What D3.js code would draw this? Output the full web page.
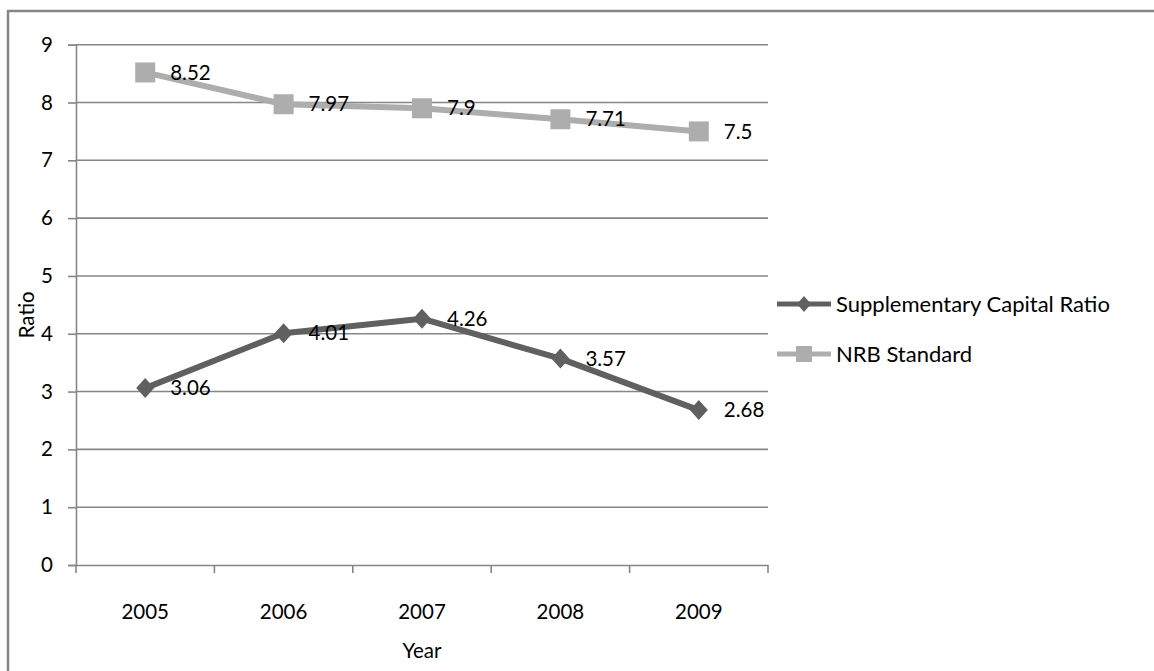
<!DOCTYPE html>
<html>
<head>
<meta charset="utf-8">
<script src="https://cdn.jsdelivr.net/npm/d3@7/dist/d3.min.js"></script>
<style>
  html, body { margin: 0; padding: 0; background: #fff; }
  svg { display: block; }
  text { font-family: Lato, "Liberation Sans", sans-serif; fill: #000; }
</style>
</head>
<body>
<svg id="chart" width="1154" height="671"></svg>
<script>
// Chart data
const years = ["2005", "2006", "2007", "2008", "2009"];
const supplementaryRatio = [3.06, 4.01, 4.26, 3.57, 2.68];
const nrbStandard = [8.52, 7.97, 7.9, 7.71, 7.5];
const yTicks = [0, 1, 2, 3, 4, 5, 6, 7, 8, 9];
const seriesNames = ["Supplementary Capital Ratio", "NRB Standard"];

const W = 1154, H = 671;
const plot = { left: 76, right: 768, top: 44.7, bottom: 565 };
const fontSize = 20.5;
const legendFontSize = 22;
const gridColor = "#868686";
const darkColor = "#606060";
const lightColor = "#adadad";

const svg = d3.select("#chart");

// Outer chart frame
svg.append("rect")
  .attr("x", 8).attr("y", 11)
  .attr("width", W + 20).attr("height", H + 20)
  .attr("fill", "none")
  .attr("stroke", gridColor)
  .attr("stroke-width", 2.5);

const x = d3.scaleBand().domain(years).range([plot.left, plot.right]).padding(0);
const y = d3.scaleLinear().domain([0, 9]).range([plot.bottom, plot.top]);
const cx = d => x(d) + x.bandwidth() / 2;

// Horizontal gridlines
svg.append("g")
  .selectAll("line")
  .data(yTicks.filter(t => t > 0))
  .join("line")
  .attr("x1", plot.left).attr("x2", plot.right)
  .attr("y1", d => y(d)).attr("y2", d => y(d))
  .attr("stroke", gridColor)
  .attr("stroke-width", 1.6);

// Y axis
const yAxis = svg.append("g")
  .attr("transform", `translate(${plot.left},0)`)
  .call(d3.axisLeft(y).tickValues(yTicks).tickSize(8).tickPadding(15).tickFormat(d3.format("d")));
yAxis.select(".domain").attr("stroke", gridColor).attr("stroke-width", 1.6);
yAxis.selectAll(".tick line").attr("stroke", gridColor).attr("stroke-width", 1.6);
yAxis.selectAll(".tick text")
  .style("font-family", "Lato, 'Liberation Sans', sans-serif")
  .style("font-size", fontSize + "px")
  .attr("fill", "#000");

// X axis: baseline, category labels and boundary ticks
const xAxis = svg.append("g")
  .attr("transform", `translate(0,${plot.bottom})`)
  .call(d3.axisBottom(x).tickSize(0).tickPadding(38));
xAxis.select(".domain").attr("stroke", gridColor).attr("stroke-width", 1.6);
xAxis.selectAll(".tick text")
  .style("font-family", "Lato, 'Liberation Sans', sans-serif")
  .style("font-size", fontSize + "px")
  .attr("fill", "#000")
  .attr("dy", "0.35em")
  .attr("y", 47);

const boundaries = years.map(d => x(d)).concat([x(years[years.length - 1]) + x.bandwidth()]);
svg.append("g")
  .selectAll("line")
  .data(boundaries)
  .join("line")
  .attr("x1", d => d).attr("x2", d => d)
  .attr("y1", plot.bottom).attr("y2", plot.bottom + 8)
  .attr("stroke", gridColor)
  .attr("stroke-width", 1.6);

// Axis titles
svg.append("text")
  .attr("transform", `translate(27,${(plot.top + plot.bottom) / 2 + 10}) rotate(-90)`)
  .attr("text-anchor", "middle")
  .attr("dy", "0.35em")
  .style("font-size", fontSize + "px")
  .text("Ratio");

svg.append("text")
  .attr("x", (plot.left + plot.right) / 2)
  .attr("y", 651)
  .attr("text-anchor", "middle")
  .attr("dy", "0.35em")
  .style("font-size", fontSize + "px")
  .text("Year");

// Series
const line = d3.line().x(d => cx(d.year)).y(d => y(d.value));
const series = [
  { name: seriesNames[0], values: supplementaryRatio, color: darkColor, shape: "diamond" },
  { name: seriesNames[1], values: nrbStandard, color: lightColor, shape: "square" }
];

const diamond = "M0,-10L9,0L0,10L-9,0Z";
const square = "M-10,-10H10V10H-10Z";

series.forEach(s => {
  const pts = years.map((yr, i) => ({ year: yr, value: s.values[i] }));
  const g = svg.append("g");
  g.append("path")
    .datum(pts)
    .attr("d", line)
    .attr("fill", "none")
    .attr("stroke", s.color)
    .attr("stroke-width", 6)
    .attr("stroke-linejoin", "round");
  g.selectAll("path.marker")
    .data(pts)
    .join("path")
    .attr("class", "marker")
    .attr("d", s.shape === "diamond" ? diamond : square)
    .attr("transform", d => `translate(${cx(d.year)},${y(d.value)})`)
    .attr("fill", s.color);
});

// Data labels on top of the lines
series.forEach(s => {
  const pts = years.map((yr, i) => ({ year: yr, value: s.values[i] }));
  svg.append("g")
    .selectAll("text")
    .data(pts)
    .join("text")
    .attr("x", d => cx(d.year) + 25)
    .attr("y", d => y(d.value))
    .attr("dy", "0.35em")
    .style("font-size", fontSize + "px")
    .text(d => String(d.value));
});

// Legend
const legendRows = [304, 354];
const legend = svg.append("g");
series.forEach((s, i) => {
  const ly = legendRows[i];
  const row = legend.append("g").attr("transform", `translate(0,${ly})`);
  row.append("line")
    .attr("x1", 777).attr("x2", 831)
    .attr("y1", 0).attr("y2", 0)
    .attr("stroke", s.color)
    .attr("stroke-width", 5);
  row.append("path")
    .attr("d", s.shape === "diamond" ? "M0,-8L7,0L0,8L-7,0Z" : "M-8,-8H8V8H-8Z")
    .attr("transform", "translate(804,0)")
    .attr("fill", s.color);
  row.append("text")
    .attr("x", 836)
    .attr("y", 0)
    .attr("dy", "0.35em")
    .style("font-size", legendFontSize + "px")
    .text(s.name);
});
</script>
</body>
</html>
